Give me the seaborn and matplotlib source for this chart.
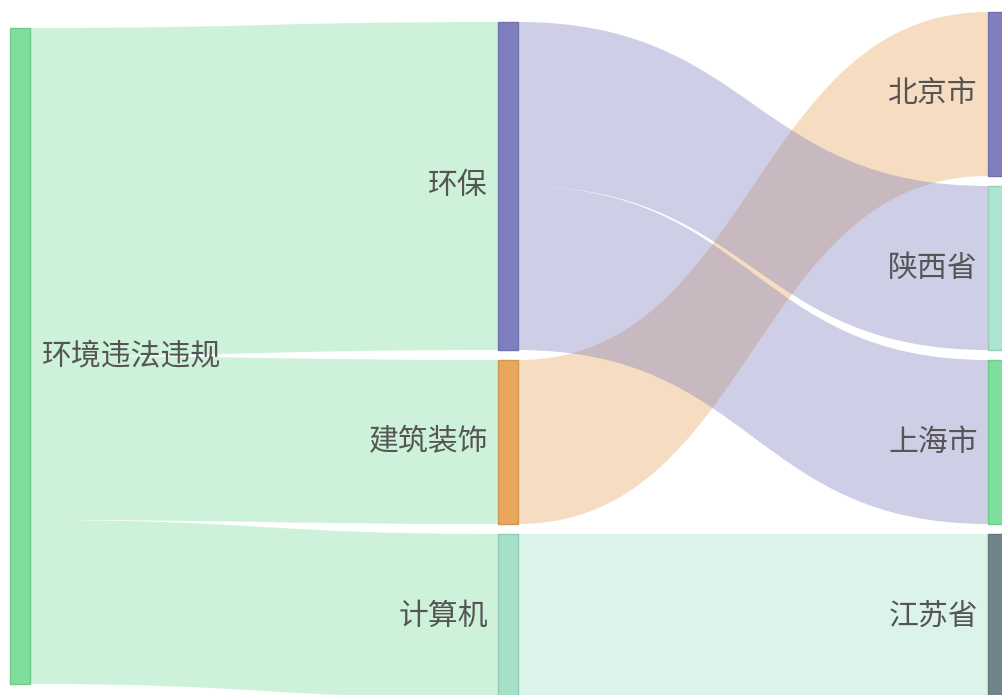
import matplotlib
matplotlib.use("Agg")
import matplotlib.pyplot as plt
from matplotlib.path import Path
from matplotlib.patches import PathPatch, Rectangle
import matplotlib.colors as mcolors
import seaborn as sns

# ---------------- data ----------------
nodes = ["环境违法违规", "环保", "建筑装饰", "计算机", "北京市", "陕西省", "上海市", "江苏省"]
node_levels = [0, 1, 1, 1, 2, 2, 2, 2]
node_colors = ["#7ddf9b", "#7f7fbf", "#e9a75c", "#a5e0c9",
               "#7f7fbf", "#ade4cf", "#7ddf9b", "#6f858a"]
link_sources = ["环境违法违规", "环境违法违规", "环境违法违规", "环保", "环保", "建筑装饰", "计算机"]
link_targets = ["环保", "建筑装饰", "计算机", "陕西省", "上海市", "北京市", "江苏省"]
link_values = [2, 1, 1, 1, 1, 1, 1]
# drawing order of links (later = on top)
link_draw_order = [0, 1, 2, 5, 6, 3, 4]

# ---------------- style / layout ----------------
sns.set_theme(style="white")
plt.rcParams["font.family"] = ["Noto Sans CJK SC", "DejaVu Sans"]

W, H = 1002, 695
col_x = [10, 498, 988]        # left edge of node column (px)
col_top = [28, 22, 12]        # top of each column (px)
node_w = 20
unit = 164                    # px per unit of value
gap = 10
link_alpha = 0.38
label_color = "#555555"
fsize = 21.5

fig = plt.figure(figsize=(W / 100, H / 100), dpi=100)
ax = fig.add_axes([0, 0, 1, 1])
ax.set_xlim(0, W)
ax.set_ylim(H, 0)
ax.axis("off")

# node values
val_in = {n: 0 for n in nodes}
val_out = {n: 0 for n in nodes}
for s, t, v in zip(link_sources, link_targets, link_values):
    val_out[s] += v
    val_in[t] += v
node_val = {n: max(val_in[n], val_out[n]) for n in nodes}

# node positions
pos = {}
cursor = {lvl: col_top[lvl] for lvl in set(node_levels)}
for n, lvl in zip(nodes, node_levels):
    h = node_val[n] * unit
    y0 = cursor[lvl]
    pos[n] = (col_x[lvl], y0, h)
    cursor[lvl] = y0 + h + gap

color_of = dict(zip(nodes, node_colors))

# link geometry
out_off = {n: 0 for n in nodes}
in_off = {n: 0 for n in nodes}
link_paths = []
for s, t, v in zip(link_sources, link_targets, link_values):
    sx, sy, _ = pos[s]
    tx, ty, _ = pos[t]
    h = v * unit
    x0 = sx + node_w
    x1 = tx
    y0 = sy + out_off[s]
    y1 = ty + in_off[t]
    out_off[s] += h
    in_off[t] += h
    xm = (x0 + x1) / 2
    verts = [(x0, y0), (xm, y0), (xm, y1), (x1, y1),
             (x1, y1 + h),
             (xm, y1 + h), (xm, y0 + h), (x0, y0 + h),
             (x0, y0)]
    codes = [Path.MOVETO, Path.CURVE4, Path.CURVE4, Path.CURVE4,
             Path.LINETO,
             Path.CURVE4, Path.CURVE4, Path.CURVE4,
             Path.CLOSEPOLY]
    link_paths.append((Path(verts, codes), color_of[s]))

for i in link_draw_order:
    p, c = link_paths[i]
    ax.add_patch(PathPatch(p, facecolor=c, edgecolor="none",
                           alpha=link_alpha, zorder=1))

# nodes + labels
for n, lvl in zip(nodes, node_levels):
    x, y, h = pos[n]
    c = mcolors.to_rgb(color_of[n])
    dark = tuple(ch * 0.9 for ch in c)
    ax.add_patch(Rectangle((x, y), node_w, h, facecolor=c, edgecolor=dark,
                           linewidth=1.0, zorder=3))
    cy = y + h / 2
    if lvl == 0:
        ax.text(x + node_w + 12, cy, n, ha="left", va="center",
                fontsize=fsize, color=label_color, zorder=4)
    else:
        ax.text(x - 10, cy, n, ha="right", va="center",
                fontsize=fsize, color=label_color, zorder=4)

fig.savefig("out.png", dpi=100)
